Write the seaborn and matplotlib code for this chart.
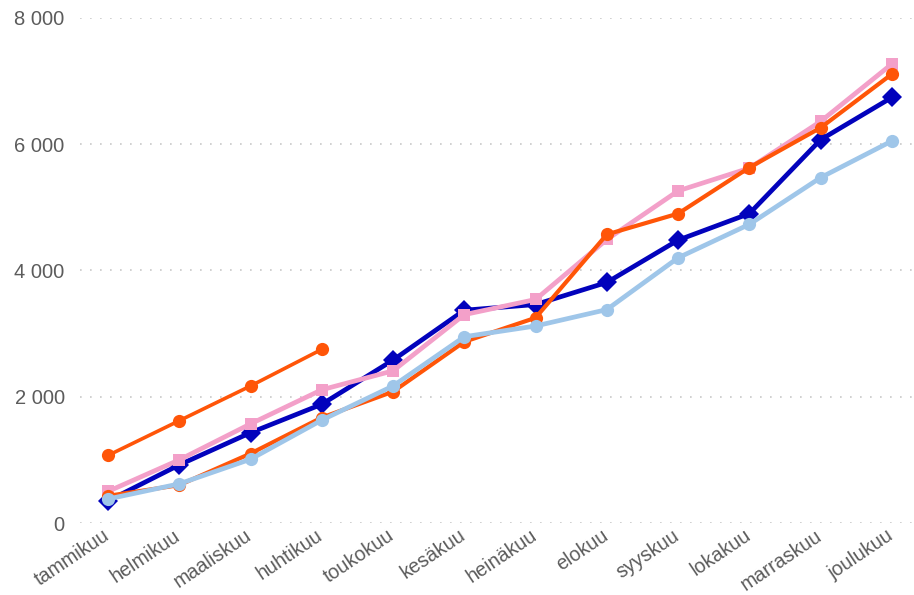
import matplotlib
matplotlib.use("Agg")
import matplotlib.pyplot as plt
import matplotlib.ticker as mticker
import matplotlib.transforms as mtransforms
import seaborn as sns
import pandas as pd

# Kuukaudet
months = ["tammikuu", "helmikuu", "maaliskuu", "huhtikuu", "toukokuu", "kesäkuu",
          "heinäkuu", "elokuu", "syyskuu", "lokakuu", "marraskuu", "joulukuu"]

# Kumulatiiviset arvot sarjoittain
dark_blue = [350, 920, 1430, 1880, 2580, 3370, 3460, 3810, 4480, 4900, 6070, 6740]
pink = [500, 1000, 1570, 2110, 2410, 3300, 3540, 4490, 5260, 5620, 6360, 7270]
orange = [430, 600, 1100, 1670, 2080, 2870, 3250, 4570, 4900, 5630, 6260, 7110]
light_blue = [380, 620, 1010, 1630, 2170, 2950, 3120, 3380, 4200, 4730, 5470, 6050]
orange_current = [1070, 1620, 2170, 2750]

y_ticks = [0, 2000, 4000, 6000, 8000]

sns.set_theme(style="white")
plt.rcParams["font.family"] = ["Liberation Sans", "DejaVu Sans"]

fig = plt.figure(figsize=(9.14, 5.95), dpi=100)
ax = fig.add_axes([0.0875, 0.121, 0.9125, 0.849])

series = [
    (dark_blue, "#0202bc", "D", 3.4, 10.0),
    (pink, "#f3a0c9", "s", 3.4, 9.0),
    (orange, "#ff5508", "o", 3.0, 9.5),
    (light_blue, "#9fc6e9", "o", 3.4, 9.5),
]

for vals, color, marker, lw, ms in series:
    df = pd.DataFrame({"kuukausi": months[:len(vals)], "arvo": vals})
    sns.lineplot(data=df, x="kuukausi", y="arvo", ax=ax, color=color, marker=marker,
                 linewidth=lw, markersize=ms, markeredgewidth=0, sort=False)

df_cur = pd.DataFrame({"kuukausi": months[:len(orange_current)], "arvo": orange_current})
sns.lineplot(data=df_cur, x="kuukausi", y="arvo", ax=ax, color="#ff5508", marker="o",
             linewidth=2.6, markersize=9.5, markeredgewidth=0, sort=False)

ax.set_xlim(-0.393, 11.31)
ax.set_ylim(0, 8000)
ax.set_yticks(y_ticks)
ax.yaxis.set_major_formatter(mticker.FuncFormatter(lambda v, p: f"{v:,.0f}".replace(",", " ")))
ax.set_xlabel("")
ax.set_ylabel("")

ax.grid(axis="y", color="#c8c8c8", linestyle=(0, (1, 5)), linewidth=1.2)
ax.grid(axis="x", visible=False)
ax.set_axisbelow(True)
for s in ax.spines.values():
    s.set_visible(False)

ax.tick_params(axis="both", length=0, colors="#5c5c5c", labelsize=14.5)
ax.tick_params(axis="x", labelsize=14.2, pad=2)
ax.tick_params(axis="y", pad=11)
shift = mtransforms.ScaledTranslation(-6 / 100, 0, fig.dpi_scale_trans)
for lbl in ax.get_xticklabels():
    lbl.set_rotation(34)
    lbl.set_ha("right")
    lbl.set_rotation_mode("anchor")
    lbl.set_transform(lbl.get_transform() + shift)

fig.savefig("out.png", dpi=100, facecolor="white")
